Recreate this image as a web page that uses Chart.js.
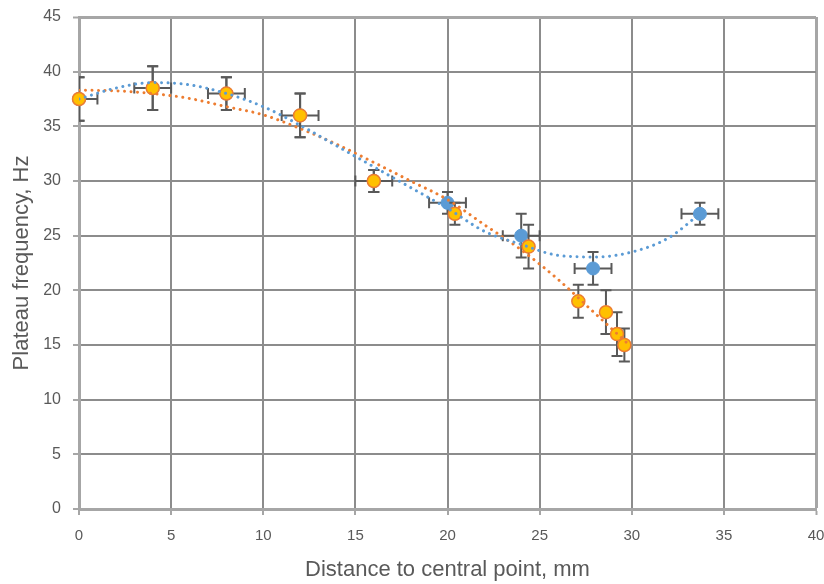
<html>
<head>
  <title>Plateau frequency</title>
  <script src="https://cdn.jsdelivr.net/npm/chart.js"></script>
  <style>
    body { margin: 0; background: #fff; }
    #wrap { width: 824px; height: 584px; }
  </style>
</head>
<body>
  <div id="wrap"><canvas id="myChart" width="824" height="584"></canvas></div>
  <script>
    // measured points (blue series)
    const blueX = [0, 4, 8, 12, 16, 20, 24, 27.9, 33.7];
    const blueY = [37.5, 38.5, 38, 36, 30, 28, 25, 22, 27];
    const blueErrX = [1, 1, 1, 1, 1, 1, 1, 1, 1];
    const blueErrY = [2, 2, 1.5, 2, 1, 1, 2, 1.5, 1];

    // measured points (orange series)
    const orangeX = [0, 4, 8, 12, 16, 20.4, 24.4, 27.1, 28.6, 29.2, 29.6];
    const orangeY = [37.5, 38.5, 38, 36, 30, 27, 24, 19, 18, 16, 15];
    const orangeErrY = [2, 2, 1.5, 2, 1, 1, 2, 1.5, 2, 2, 1.5];

    // trend lines
    const blueTrendX = [0, 2, 4, 6, 8, 10, 12, 14, 16, 18, 20, 22, 24, 26, 28, 30, 32, 33.7];
    const blueTrendY = [37.5, 38.5, 39.0, 38.8, 38.0, 36.8, 35.1, 33.2, 31.3, 29.4, 27.5, 25.4, 24.2, 23.2, 23.05, 23.5, 24.8, 27.0];
    const orangeTrendX = [0, 2, 4, 6, 8, 10, 12, 14, 16, 18, 20, 22, 24, 26, 28, 29.8];
    const orangeTrendY = [38.3, 38.25, 38.0, 37.55, 36.8, 36.05, 34.8, 33.35, 31.7, 30.0, 28.3, 26.0, 23.7, 21.0, 17.9, 15.1];

    const xTicks = [0, 5, 10, 15, 20, 25, 30, 35, 40];
    const yTicks = [0, 5, 10, 15, 20, 25, 30, 35, 40, 45];

    const pts = (xs, ys) => xs.map((x, i) => ({ x: x, y: ys[i] }));

    // error bars are not built in, draw them with the chart scales
    const errorBars = {
      id: 'errorBars',
      beforeDatasetDraw(chart, args) {
        const ds = chart.data.datasets[args.index];
        if (!ds.errY) return;
        const { ctx, chartArea: a, scales } = chart;
        const sx = scales.x, sy = scales.y;
        ctx.save();
        ctx.beginPath();
        ctx.rect(a.left, a.top, a.right - a.left, a.bottom - a.top);
        ctx.clip();
        ctx.strokeStyle = '#595959';
        ctx.lineWidth = 2;
        ds.data.forEach((p, i) => {
          const px = sx.getPixelForValue(p.x);
          const py = sy.getPixelForValue(p.y);
          const t = sy.getPixelForValue(p.y + ds.errY[i]);
          const b = sy.getPixelForValue(p.y - ds.errY[i]);
          ctx.beginPath();
          ctx.moveTo(px, t); ctx.lineTo(px, b);
          ctx.moveTo(px - 5.5, t); ctx.lineTo(px + 5.5, t);
          ctx.moveTo(px - 5.5, b); ctx.lineTo(px + 5.5, b);
          if (ds.errX) {
            const l = sx.getPixelForValue(p.x - ds.errX[i]);
            const r = sx.getPixelForValue(p.x + ds.errX[i]);
            ctx.moveTo(l, py); ctx.lineTo(r, py);
            ctx.moveTo(l, py - 5.5); ctx.lineTo(l, py + 5.5);
            ctx.moveTo(r, py - 5.5); ctx.lineTo(r, py + 5.5);
          }
          ctx.stroke();
        });
        ctx.restore();
      }
    };

    const gridColor = c => (c.tick && c.scale.max === c.tick.value) ? '#a6a6a6' : '#8c8c8c';
    const gridWidth = c => (c.tick && c.scale.max === c.tick.value) ? 3 : 2;

    const ctx = document.getElementById('myChart').getContext('2d');
    new Chart(ctx, {
      type: 'scatter',
      data: {
        datasets: [
          {
            data: pts(blueTrendX, blueTrendY),
            showLine: true,
            borderColor: '#5B9BD5',
            borderWidth: 3,
            borderDash: [0.01, 6.5],
            borderCapStyle: 'round',
            pointRadius: 0,
            cubicInterpolationMode: 'monotone'
          },
          {
            data: pts(orangeTrendX, orangeTrendY),
            showLine: true,
            borderColor: '#ED7D31',
            borderWidth: 3,
            borderDash: [0.01, 6.5],
            borderCapStyle: 'round',
            pointRadius: 0,
            cubicInterpolationMode: 'monotone'
          },
          {
            data: pts(orangeX, orangeY),
            errY: orangeErrY,
            backgroundColor: '#FFC000',
            borderColor: '#ED7D31',
            borderWidth: 1.5,
            pointRadius: 6.5,
            clip: false
          },
          {
            data: pts(blueX, blueY),
            errY: blueErrY,
            errX: blueErrX,
            backgroundColor: '#5B9BD5',
            borderColor: '#5B9BD5',
            borderWidth: 1,
            pointRadius: 6.5,
            clip: false
          }
        ]
      },
      options: {
        responsive: false,
        animation: false,
        layout: { padding: { top: 17, right: 7, left: 0, bottom: 0 } },
        plugins: { legend: { display: false }, tooltip: { enabled: false } },
        scales: {
          x: {
            type: 'linear',
            min: 0,
            max: 40,
            afterFit: s => { s.height = 75; s.paddingLeft = 0; s.paddingRight = 0; },
            afterBuildTicks: s => { s.ticks = xTicks.map(v => ({ value: v })); },
            ticks: { color: '#595959', font: { family: 'Liberation Sans, Arial', size: 15 }, padding: 12, maxRotation: 0 },
            grid: { color: gridColor, lineWidth: gridWidth, tickLength: 6, tickColor: '#a6a6a6', tickWidth: 2 },
            border: { color: '#a6a6a6', width: 3 },
            title: {
              display: true,
              text: 'Distance to central point, mm',
              color: '#595959',
              font: { family: 'Liberation Sans, Arial', size: 22, lineHeight: 1.2 },
              padding: { top: 0, bottom: 1 }
            }
          },
          y: {
            type: 'linear',
            min: 0,
            max: 45,
            afterFit: s => { s.width = 79; s.paddingTop = 0; s.paddingBottom = 0; },
            afterBuildTicks: s => { s.ticks = yTicks.map(v => ({ value: v })); },
            ticks: { color: '#595959', font: { family: 'Liberation Sans, Arial', size: 16 }, padding: 12 },
            grid: { color: gridColor, lineWidth: gridWidth, tickLength: 6, tickColor: '#a6a6a6', tickWidth: 2 },
            border: { color: '#a6a6a6', width: 3 },
            title: {
              display: true,
              text: 'Plateau frequency, Hz',
              color: '#595959',
              font: { family: 'Liberation Sans, Arial', size: 22, lineHeight: 1.2 },
              padding: { top: 9, bottom: 0 }
            }
          }
        }
      },
      plugins: [errorBars]
    });
  </script>
</body>
</html>
